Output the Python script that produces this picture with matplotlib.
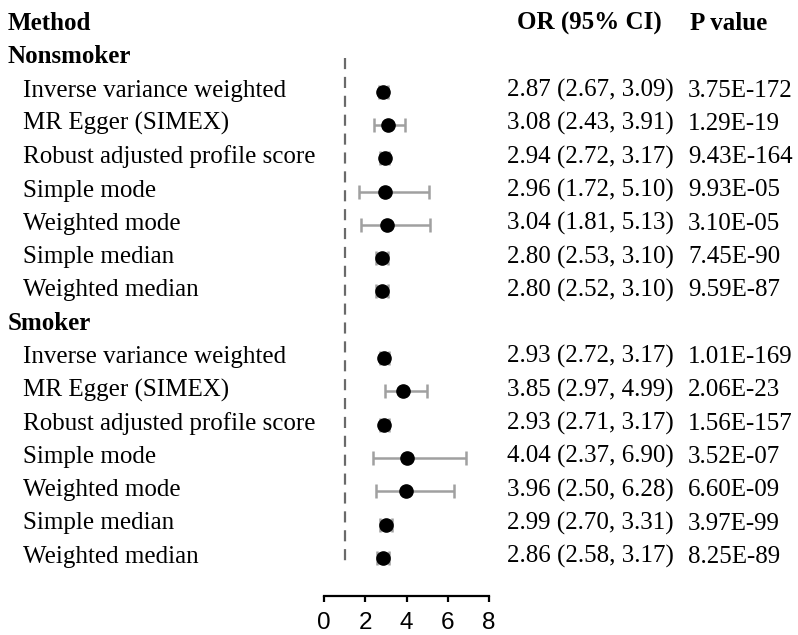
import matplotlib
matplotlib.use("Agg")
import matplotlib.pyplot as plt
from matplotlib.transforms import blended_transform_factory

# Mendelian randomization estimates by smoking status
methods = [
    "Inverse variance weighted",
    "MR Egger (SIMEX)",
    "Robust adjusted profile score",
    "Simple mode",
    "Weighted mode",
    "Simple median",
    "Weighted median",
]
groups = ["Nonsmoker", "Smoker"]

nonsmoker_or = [2.87, 3.08, 2.94, 2.96, 3.04, 2.80, 2.80]
nonsmoker_lo = [2.67, 2.43, 2.72, 1.72, 1.81, 2.53, 2.52]
nonsmoker_hi = [3.09, 3.91, 3.17, 5.10, 5.13, 3.10, 3.10]
nonsmoker_p = ["3.75E-172", "1.29E-19", "9.43E-164", "9.93E-05",
               "3.10E-05", "7.45E-90", "9.59E-87"]

smoker_or = [2.93, 3.85, 2.93, 4.04, 3.96, 2.99, 2.86]
smoker_lo = [2.72, 2.97, 2.71, 2.37, 2.50, 2.70, 2.58]
smoker_hi = [3.17, 4.99, 3.17, 6.90, 6.28, 3.31, 3.17]
smoker_p = ["1.01E-169", "2.06E-23", "1.56E-157", "3.52E-07",
            "6.60E-09", "3.97E-99", "8.25E-89"]

x_ticks = [0, 2, 4, 6, 8]
null_value = 1

group_data = [
    (nonsmoker_or, nonsmoker_lo, nonsmoker_hi, nonsmoker_p),
    (smoker_or, smoker_lo, smoker_hi, smoker_p),
]

W, H = 798, 635
fig = plt.figure(figsize=(W / 100, H / 100), dpi=100)

serif = ["Liberation Serif", "DejaVu Serif"]
fs = 18

# Panel: x from 0 to 8, rows counted downward from the header row (y = 0)
ax_left, ax_right = 324, 489
ax_bottom_px = 596
row0_px, row_step = 25, 33.3
ax = fig.add_axes([ax_left / W, (H - ax_bottom_px) / H,
                   (ax_right - ax_left) / W, ax_bottom_px / H])
ax.set_xlim(0, 8)
ax.set_ylim(-(ax_bottom_px - row0_px) / row_step, row0_px / row_step)

for s in ["top", "right", "left"]:
    ax.spines[s].set_visible(False)
ax.spines["bottom"].set_bounds(0, 8)
ax.spines["bottom"].set_linewidth(1.6)
ax.set_yticks([])
ax.set_xticks(x_ticks)
ax.set_xticklabels([str(t) for t in x_ticks], fontfamily="Liberation Sans",
                   fontsize=17.5)
ax.tick_params(axis="x", length=4.5, width=1.6, pad=7)
ax.patch.set_alpha(0)

tr = blended_transform_factory(fig.transFigure, ax.transData)
base_off = 5 / row_step  # baseline sits a little below the marker centre


def fx(px):
    return px / W


def put(xpx, row, s, bold=False):
    ax.text(fx(xpx), -row - base_off, s, transform=tr, va="baseline",
            ha="left", fontfamily=serif, fontsize=fs,
            fontweight="bold" if bold else "normal")


# Header row
put(8, 0, "Method", bold=True)
put(517, 0, "OR (95% CI)", bold=True)
put(690, 0, "P value", bold=True)

row = 1
for g, (ors, los, his, ps) in zip(groups, group_data):
    put(8, row, g, bold=True)
    row += 1
    for m, o, lo, hi, p in zip(methods, ors, los, his, ps):
        y = -row
        ax.errorbar(o, y, xerr=[[o - lo], [hi - o]], fmt="none",
                    ecolor="#a0a0a0", elinewidth=1.8, capsize=5,
                    capthick=1.8, zorder=2)
        ax.plot(o, y, "o", color="black", markersize=9.5, zorder=3)
        put(23, row, m)
        put(507, row, f"{o:.2f} ({lo:.2f}, {hi:.2f})")
        put(688, row, p)
        row += 1

# Reference line at OR = 1
ax.plot([null_value, null_value], [-1.0, -16.15], color="#6a6a6a",
        linewidth=1.6, linestyle=(0, (5, 3.5)), zorder=1)

fig.savefig("out.png", dpi=100)
